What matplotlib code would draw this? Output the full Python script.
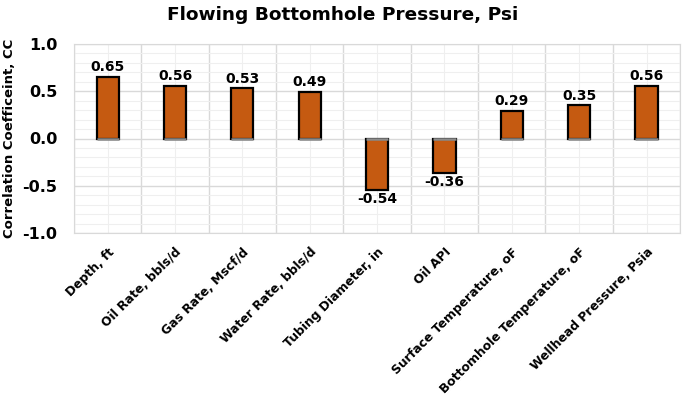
import numpy as np
import matplotlib.pyplot as plt
from matplotlib.ticker import MultipleLocator, FixedLocator

# data
categories = ['Depth, ft', 'Oil Rate, bbls/d', 'Gas Rate, Mscf/d', 'Water Rate, bbls/d',
              'Tubing Diameter, in', 'Oil API', 'Surface Temperature, oF',
              'Bottomhole Temperature, oF', 'Wellhead Pressure, Psia']
cc_values = [0.65, 0.56, 0.53, 0.49, -0.54, -0.36, 0.29, 0.35, 0.56]

plt.rcParams['font.family'] = ['DejaVu Sans']
plt.rcParams['font.weight'] = 'bold'

fig = plt.figure(figsize=(6.85, 4.0), dpi=100)
ax = fig.add_axes([0.108, 0.4175, 0.885, 0.4725])

x = np.arange(len(categories))
bar_w = 0.33
ax.bar(x, cc_values, width=bar_w, color='#C55A11', edgecolor='black', linewidth=1.6, zorder=3)
# grey edge where bars meet the zero line
ax.hlines(np.zeros(len(x)), x - bar_w / 2, x + bar_w / 2, color='#8c8c8c', linewidth=1.8, zorder=4)

# value labels
for xi, v in zip(x, cc_values):
    if v >= 0:
        ax.text(xi, v + 0.03, f'{v:.2f}', ha='center', va='bottom', fontsize=10, fontweight='bold')
    else:
        ax.text(xi, v - 0.03, f'{v:.2f}', ha='center', va='top', fontsize=10, fontweight='bold')

ax.set_xlim(-0.5, len(categories) - 0.5)
ax.set_ylim(-1.0, 1.0)

# grid
ax.yaxis.set_major_locator(MultipleLocator(0.5))
ax.yaxis.set_minor_locator(MultipleLocator(0.1))
ax.xaxis.set_major_locator(FixedLocator(x))
ax.xaxis.set_minor_locator(FixedLocator(np.arange(-0.5, len(categories), 1.0)))
ax.grid(which='major', axis='y', color='#d9d9d9', linewidth=1.0, zorder=0)
ax.grid(which='minor', axis='y', color='#efefef', linewidth=0.8, zorder=0)
ax.grid(which='minor', axis='x', color='#d9d9d9', linewidth=1.0, zorder=0)
ax.grid(which='major', axis='x', color='#efefef', linewidth=0.8, zorder=0)
ax.set_axisbelow(True)

for s in ax.spines.values():
    s.set_color('#d9d9d9')

ax.tick_params(which='both', length=0)
ax.set_yticks([-1.0, -0.5, 0.0, 0.5, 1.0])
ax.set_yticklabels(['-1.0', '-0.5', '0.0', '0.5', '1.0'], fontsize=11.5, fontweight='bold')
ax.set_xticks(x)
ax.set_xticklabels(categories, rotation=45, ha='right', rotation_mode='anchor',
                   fontsize=8.9, fontweight='bold')
ax.tick_params(axis='x', pad=9)
ax.tick_params(axis='y', pad=12)

# y label placed by hand so it stays inside the figure
fig.text(0.014, 0.655, 'Correlation Coefficeint, CC', rotation=90, ha='center', va='center',
         fontsize=9.5, fontweight='bold')
fig.suptitle('Flowing Bottomhole Pressure, Psi', fontsize=13.3, fontweight='bold', y=0.985)

fig.savefig('out.png', dpi=100)
